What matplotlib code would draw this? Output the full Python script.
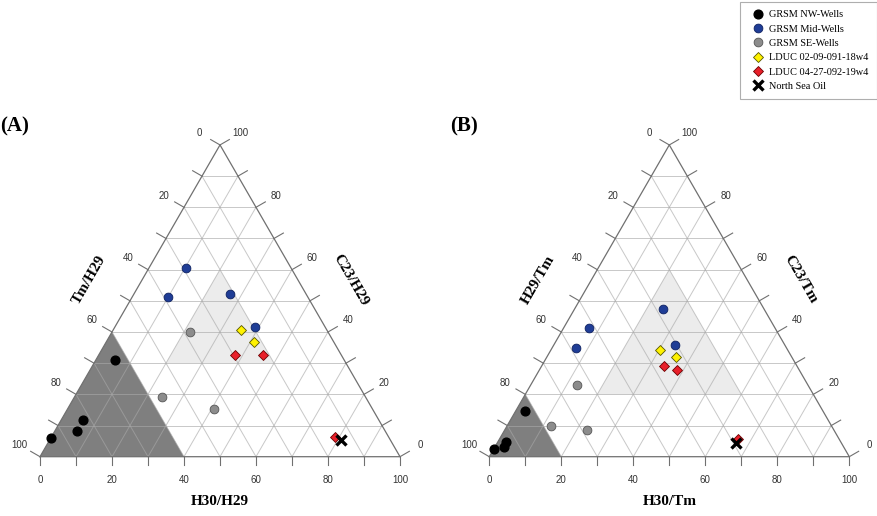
import numpy as np
import matplotlib
matplotlib.use("Agg")
import matplotlib.pyplot as plt
from matplotlib.lines import Line2D

# ternary values as (bottom, right, left) = (H30, C23, Tm or H29), in %
# panel A: H30/H29, C23/H29, Tm/H29
a_nw = [(5.3, 31.0, 63.7), (6.0, 11.8, 82.2), (6.2, 8.4, 85.4), (0.0, 6.1, 93.9)]
a_mid = [(10.2, 60.5, 29.3), (10.1, 51.1, 38.8), (26.8, 52.2, 21.0), (39.0, 41.7, 19.3)]
a_se = [(21.7, 40.0, 38.3), (24.4, 19.2, 56.4), (40.6, 15.3, 44.1)]
a_ld1 = [(35.5, 40.6, 23.9), (40.9, 36.9, 22.2)]
a_ld2 = [(37.9, 32.7, 29.4), (45.7, 32.7, 21.6), (78.8, 6.3, 14.9)]
a_nso = [(80.8, 5.4, 13.8)]
a_dark = [(0, 0, 100), (40, 0, 60), (0, 40, 60)]
a_light = [(20, 60, 20), (20, 30, 50), (50, 30, 20)]

# panel B: H30/Tm, C23/Tm, H29/Tm
b_nw = [(2.6, 14.7, 82.7), (2.3, 4.6, 93.1), (2.6, 3.2, 94.2), (0.0, 2.4, 97.6)]
b_mid = [(24.5, 47.4, 28.1), (7.0, 41.2, 51.8), (6.7, 34.9, 58.4), (33.7, 35.7, 30.6)]
b_se = [(12.8, 23.1, 64.1), (12.2, 9.7, 78.1), (22.8, 8.6, 68.6)]
b_ld1 = [(30.3, 34.3, 35.4), (35.8, 32.1, 32.1)]
b_ld2 = [(34.0, 29.2, 36.8), (38.4, 27.7, 33.9), (66.2, 5.6, 28.2)]
b_nso = [(66.2, 4.5, 29.3)]
b_dark = [(0, 0, 100), (20, 0, 80), (0, 20, 80)]
b_light = [(20, 60, 20), (20, 20, 60), (60, 20, 20)]

series_names = ["GRSM NW-Wells", "GRSM Mid-Wells", "GRSM SE-Wells",
                "LDUC 02-09-091-18w4", "LDUC 04-27-092-19w4", "North Sea Oil"]

H = np.sqrt(3) / 2
W, HT = 878, 516
SCALE = 3.6  # px per ternary unit

serif = "Liberation Serif"
sans = "Liberation Sans"

styles = [
    dict(marker="o", color="black", mec="black", ms=6.3, ls="none"),
    dict(marker="o", color="#1f3d96", mec="#0d2060", ms=6.3, mew=0.6, ls="none"),
    dict(marker="o", color="#8c8c8c", mec="#555555", ms=6.3, mew=0.6, ls="none"),
    dict(marker="D", color="#fff200", mec="#555500", ms=5.3, mew=0.6, ls="none"),
    dict(marker="D", color="#e8202a", mec="#6a0000", ms=5.3, mew=0.6, ls="none"),
    dict(marker="x", color="black", mec="black", ms=6.5, mew=2.4, ls="none"),
]


def tern(pts):
    p = np.asarray(pts, dtype=float)
    s = p.sum(axis=1)
    b = p[:, 0] / s * 100
    r = p[:, 1] / s * 100
    return b + r / 2, r * H


def panel(fig, x0, y0, data, dark, light, labels, tag):
    # x0, y0: pixel position of the bottom-left corner (y from top)
    xl, yl = (-15, 115), (-16, 100)
    left = (x0 + xl[0] * SCALE) / W
    bottom = (HT - y0 + yl[0] * SCALE) / HT
    ax = fig.add_axes([left, bottom, (xl[1] - xl[0]) * SCALE / W,
                       (yl[1] - yl[0]) * SCALE / HT])
    ax.set_xlim(*xl)
    ax.set_ylim(*yl)
    ax.axis("off")
    ax.patch.set_alpha(0)

    u, v = tern(dark)
    ax.fill(u, v, color="#7f7f7f", lw=0, zorder=1)
    u, v = tern(light)
    ax.fill(u, v, color="#ececec", lw=0, zorder=1)

    gc = dict(color="#a8a8a8", alpha=0.63, lw=0.7, zorder=2)
    for k in range(10, 100, 10):
        for a, b in [((k, 0, 100 - k), (k, 100 - k, 0)),
                     ((0, k, 100 - k), (100 - k, k, 0)),
                     ((0, 100 - k, k), (100 - k, 0, k))]:
            u, v = tern([a, b])
            ax.plot(u, v, **gc)

    u, v = tern([(0, 0, 100), (100, 0, 0), (0, 100, 0), (0, 0, 100)])
    ax.plot(u, v, color="#707070", lw=0.9, zorder=3)

    tc = dict(color="#707070", lw=0.8, zorder=3)
    lc = dict(fontsize=7, family=sans, color="#333333", ha="center", va="center")
    c150 = np.array([np.cos(np.radians(150)), np.sin(np.radians(150))])
    c30 = np.array([np.cos(np.radians(30)), np.sin(np.radians(30))])
    for k in range(0, 101, 10):
        # bottom axis
        u, v = tern([(k, 0, 100 - k)])
        ax.plot([u[0], u[0]], [v[0], v[0] - 2.3], **tc)
        if k % 20 == 0:
            ax.text(u[0], v[0] - 6.5, str(k), **lc)
        # left axis
        u, v = tern([(0, 100 - k, k)]) if k < 100 else tern([(0, 0, 100)])
        p = np.array([u[0], v[0]])
        q = p + c150 * 3.0
        ax.plot([p[0], q[0]], [p[1], q[1]], **tc)
        if k % 20 == 0:
            t = p + c150 * 6.5
            ax.text(t[0], t[1], str(k), **lc)
        # right axis
        u, v = tern([(100 - k, k, 0)])
        p = np.array([u[0], v[0]])
        q = p + c30 * 3.0
        ax.plot([p[0], q[0]], [p[1], q[1]], **tc)
        if k % 20 == 0:
            t = p + c30 * 6.5
            ax.text(t[0], t[1], str(k), **lc)

    for pts, st in zip(data, styles):
        u, v = tern(pts)
        ax.plot(u, v, zorder=5, **st)

    tl = dict(fontsize=11, family=serif, fontweight="bold", ha="center", va="center")
    ax.text(50, -12.5, labels[0], **tl)
    ax.text(13.6, 49.2, labels[2], rotation=60, **tl)
    ax.text(86.4, 49.2, labels[1], rotation=-60, **tl)
    ax.text(-11.0, 91.8, tag, fontsize=15, family=serif, fontweight="bold",
            ha="left", va="center")
    return ax


fig = plt.figure(figsize=(W / 100, HT / 100), dpi=100)

panel(fig, 40, 456.7, [a_nw, a_mid, a_se, a_ld1, a_ld2, a_nso], a_dark, a_light,
      ["H30/H29", "C23/H29", "Tm/H29"], "(A)")
panel(fig, 489.3, 456.7, [b_nw, b_mid, b_se, b_ld1, b_ld2, b_nso], b_dark, b_light,
      ["H30/Tm", "C23/Tm", "H29/Tm"], "(B)")

handles = [Line2D([], [], **st) for st in styles]
leg = fig.legend(handles, series_names, loc="upper right",
                 bbox_to_anchor=(877 / W, 514 / HT), frameon=True, fancybox=False,
                 edgecolor="#9a9a9a", prop=dict(family=serif, size=7.4),
                 handlelength=2.0, handletextpad=0.1, labelspacing=0.5,
                 borderpad=0.8, borderaxespad=0)
leg.get_frame().set_linewidth(0.8)

fig.savefig("out.png", dpi=100)
